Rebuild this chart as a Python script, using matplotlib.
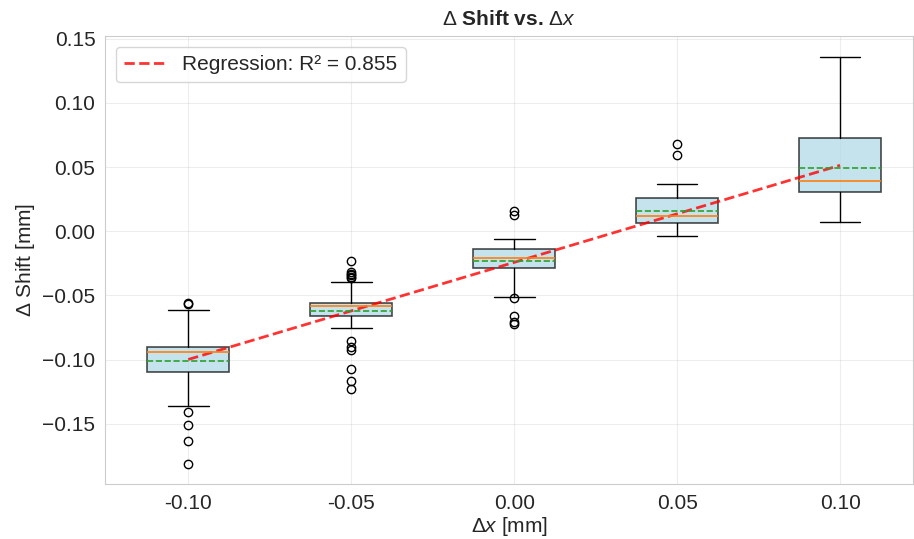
import numpy as np
import matplotlib.pyplot as plt
import seaborn as sns

sns.set_style('whitegrid')
plt.rcParams['font.family'] = ['Liberation Sans', 'DejaVu Sans']
plt.rcParams['mathtext.fontset'] = 'custom'
plt.rcParams['mathtext.rm'] = 'Liberation Sans'
plt.rcParams['mathtext.it'] = 'Liberation Sans:italic'
plt.rcParams['mathtext.bf'] = 'Liberation Sans:bold'

# Box statistics per displacement step (mm)
dx = [-0.10, -0.05, 0.00, 0.05, 0.10]
dx_labels = ['-0.10', '-0.05', '0.00', '0.05', '0.10']
q1 = [-0.1098, -0.0662, -0.0286, 0.0060, 0.0304]
med = [-0.0942, -0.0584, -0.0210, 0.0117, 0.0392]
q3 = [-0.0901, -0.0556, -0.0135, 0.0260, 0.0727]
mean = [-0.1010, -0.0623, -0.0236, 0.0158, 0.0493]
whislo = [-0.1363, -0.0755, -0.0511, -0.0034, 0.0073]
whishi = [-0.0615, -0.0392, -0.0060, 0.0369, 0.1360]
fliers = [
    [-0.0560, -0.0565, -0.1412, -0.1514, -0.1633, -0.1812],
    [-0.0231, -0.0317, -0.0330, -0.0343, -0.0360, -0.0368,
     -0.0854, -0.0901, -0.0925, -0.1075, -0.1168, -0.1233],
    [0.0156, 0.0125, -0.0517, -0.0662, -0.0709, -0.0724],
    [0.0683, 0.0590],
    [],
]

# linear fit of shift vs dx
slope = 0.7565
intercept = -0.0243
r2 = 0.855

stats = []
for i in range(len(dx)):
    stats.append(dict(q1=q1[i], med=med[i], q3=q3[i], mean=mean[i],
                      whislo=whislo[i], whishi=whishi[i], fliers=fliers[i]))

fig = plt.figure(figsize=(9.14, 5.39), dpi=100)
ax = fig.add_axes([0.115, 0.102, 0.884, 0.831])

ax.bxp(stats, positions=dx, widths=0.025, patch_artist=True,
       showmeans=True, meanline=True,
       boxprops=dict(facecolor='lightblue', edgecolor='black', alpha=0.7, linewidth=1.2),
       medianprops=dict(color='#ff7f0e', linewidth=1.2),
       meanprops=dict(color='#2ca02c', linestyle='--', linewidth=1.2),
       whiskerprops=dict(color='black', linewidth=1.0),
       capprops=dict(color='black', linewidth=1.0),
       flierprops=dict(marker='o', markerfacecolor='none', markeredgecolor='black', markersize=6))

xfit = np.array([dx[0], dx[-1]])
ax.plot(xfit, slope * xfit + intercept, 'r--', linewidth=2, alpha=0.8,
        label='Regression: R² = %.3f' % r2)

ax.set_xticks(dx)
ax.set_xticklabels(dx_labels)
ax.set_xlim(-0.1255, 0.1224)
ax.set_ylim(-0.197, 0.152)
ax.set_yticks([-0.15, -0.10, -0.05, 0.00, 0.05, 0.10, 0.15])
ax.tick_params(labelsize=15)
ax.tick_params(axis='x', pad=4)
ax.grid(True, alpha=0.35)

ax.set_title(r'$\Delta$ Shift vs. $\Delta x$', fontsize=15, fontweight='bold', pad=8)
ax.set_xlabel(r'$\Delta x$ [mm]', fontsize=15, labelpad=1)
ax.set_ylabel(r'$\Delta$ Shift [mm]', fontsize=15)
ax.legend(loc='upper left', fontsize=15)

plt.savefig('out.png', dpi=100)
